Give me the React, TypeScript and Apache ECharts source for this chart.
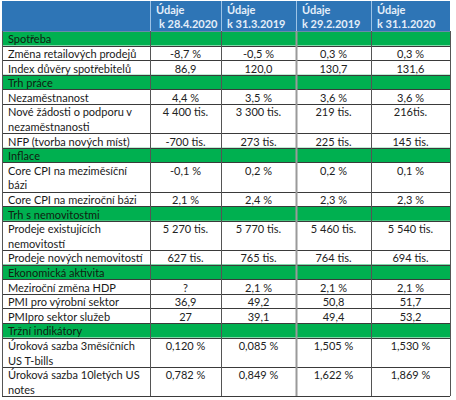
import React, { useEffect, useRef } from "react";
import * as echarts from "echarts";

const headers = ["Údaje\nk 28.4.2020", "Údaje\nk 31.3.2019", "Údaje\nk 29.2.2019", "Údaje\nk 31.1.2020"];
const sections = ["Spotřeba", "Trh práce", "Inflace", "Trh s nemovitostmi", "Ekonomická aktivita", "Tržní indikátory"];
const indicators = [
  "Změna retailových prodejů",
  "Index důvěry spotřebitelů",
  "Nezaměstnanost",
  "Nové žádosti o podporu v\nnezaměstnanosti",
  "NFP (tvorba nových míst)",
  "Core CPI na meziměsíční\nbázi",
  "Core CPI na meziroční bázi",
  "Prodeje existujících\nnemovitostí",
  "Prodeje nových nemovitostí",
  "Meziroční změna HDP",
  "PMI pro výrobní sektor",
  "PMIpro sektor služeb",
  "Úroková sazba 3měsíčních\nUS T-bills",
  "Úroková sazba 10letých US\nnotes",
];
const sectionOf = [0, 0, 1, 1, 1, 2, 2, 3, 3, 4, 4, 4, 5, 5];
const values28_4_2020 = ["-8,7 %", "86,9", "4,4 %", "4 400 tis.", "-700 tis.", "-0,1 %", "2,1 %", "5 270 tis.", "627 tis.", "?", "36,9", "27", "0,120 %", "0,782 %"];
const values31_3_2019 = ["-0,5 %", "120,0", "3,5 %", "3 300 tis.", "273 tis.", "0,2 %", "2,4 %", "5 770 tis.", "765 tis.", "2,1 %", "49,2", "39,1", "0,085 %", "0,849 %"];
const values29_2_2019 = ["0,3 %", "130,7", "3,6 %", "219 tis.", "225 tis.", "0,2 %", "2,3 %", "5 460 tis.", "764 tis.", "2,1 %", "50,8", "49,4", "1,505 %", "1,622 %"];
const values31_1_2020 = ["0,3 %", "131,6", "3,6 %", "216tis.", "145 tis.", "0,1 %", "2,3 %", "5 540 tis.", "694 tis.", "2,1 %", "51,7", "53,2", "1,530 %", "1,869 %"];

const columns = [values28_4_2020, values31_3_2019, values29_2_2019, values31_1_2020];

const FONT = "Lato";
const colX = [2, 150, 221, 296, 371, 450];
const TOP = 1;
const HEAD_BOTTOM = 31;
const UNIT = 14.6;
const BLUE = "#2E75B6";
const GREEN = "#00B050";
const LINE = "#3a3a3a";

function buildGraphics() {
  const els: any[] = [];
  const texts: any[] = [];
  els.push({ type: "rect", shape: { x: colX[0], y: TOP, width: colX[5] - colX[0], height: HEAD_BOTTOM - TOP }, style: { fill: BLUE } });
  headers.forEach((h, i) => {
    const lines = h.split("\n");
    lines.forEach((ln, j) => {
      texts.push({
        type: "text",
        x: colX[i + 1] + 6 + (i === 0 && j === 1 ? 3 : 0),
        y: TOP + 8 + j * 14,
        style: { text: ln, fill: "#E4EEF9", font: `bold 11px ${FONT}`, textVerticalAlign: "middle" },
      });
    });
  });
  for (let c = 1; c < 5; c++) {
    els.push({ type: "line", shape: { x1: colX[c] + 0.5, y1: TOP, x2: colX[c] + 0.5, y2: HEAD_BOTTOM }, style: { stroke: "#9DC3E6", lineWidth: 1 } });
  }
  let y = HEAD_BOTTOM;
  const hLines: number[] = [HEAD_BOTTOM];
  let prevSection = -1;
  indicators.forEach((label, r) => {
    if (sectionOf[r] !== prevSection) {
      prevSection = sectionOf[r];
      els.push({ type: "rect", shape: { x: colX[0], y, width: colX[5] - colX[0], height: UNIT }, style: { fill: GREEN } });
      texts.push({
        type: "text", x: colX[0] + 6, y: y + UNIT / 2 + 0.5,
        style: { text: sections[prevSection], fill: "#102010", font: `11px ${FONT}`, textVerticalAlign: "middle" },
      });
      y += UNIT;
      hLines.push(y);
    }
    const lines = label.split("\n");
    lines.forEach((ln, j) => {
      texts.push({
        type: "text", x: colX[0] + 6, y: y + UNIT / 2 + 0.5 + j * UNIT,
        style: { text: ln, fill: "#1a1a1a", font: `11px ${FONT}`, textVerticalAlign: "middle" },
      });
    });
    columns.forEach((col, c) => {
      texts.push({
        type: "text", x: (colX[c + 1] + colX[c + 2]) / 2, y: y + UNIT / 2 + 0.5,
        style: { text: col[r], fill: "#222222", font: `11px ${FONT}`, textAlign: "center", textVerticalAlign: "middle" },
      });
    });
    y += UNIT * lines.length;
    hLines.push(y);
  });
  const bottom = y;
  hLines.forEach((hy, i) => {
    const yy = Math.round(hy) + 0.5;
    els.push({ type: "line", shape: { x1: colX[0], y1: yy, x2: colX[5], y2: yy }, style: { stroke: i === 0 ? "#6a8aaa" : LINE, lineWidth: 1 } });
  });
  colX.forEach((cx, i) => {
    const thick = i === 3;
    els.push({
      type: "line",
      shape: { x1: cx + 0.5, y1: HEAD_BOTTOM, x2: cx + 0.5, y2: bottom },
      style: { stroke: thick ? "#9a9a9a" : "#555", lineWidth: thick ? 2 : 1 },
    });
  });
  return [...els, ...texts];
}

export default function App() {
  const ref = useRef<HTMLDivElement>(null);
  useEffect(() => {
    if (!ref.current) return;
    const chart = echarts.init(ref.current, null, { renderer: "svg" });
    chart.setOption({
      animation: false,
      backgroundColor: "#ffffff",
      graphic: { elements: buildGraphics() },
    });
    return () => chart.dispose();
  }, []);
  return <div ref={ref} style={{ position: "fixed", left: 0, top: 0, width: 456, height: 400 }} />;
}
